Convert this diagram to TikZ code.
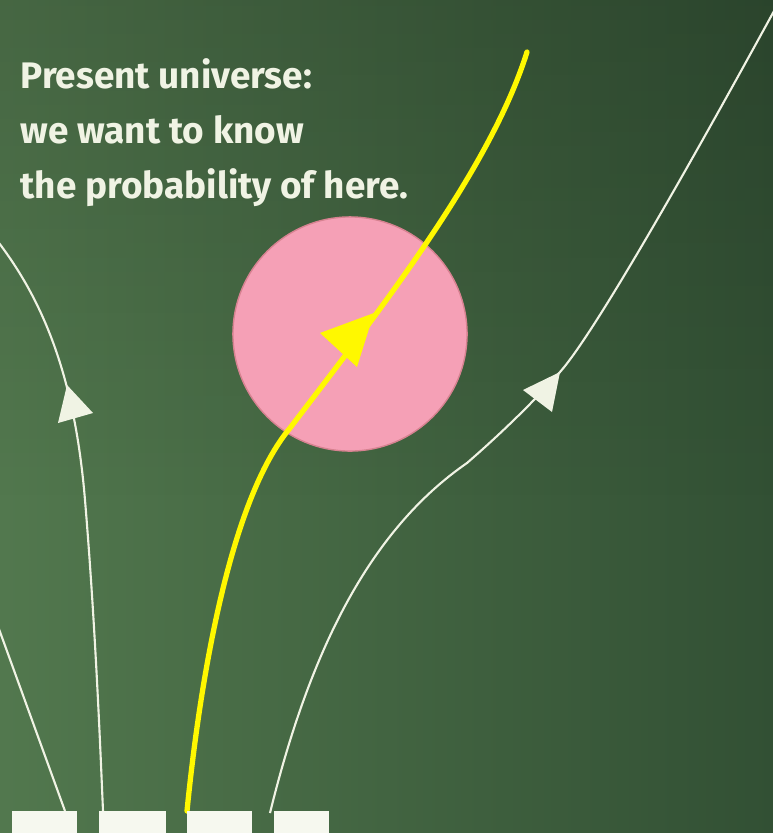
\documentclass[tikz,border=0pt]{standalone}
\usepackage{fontspec}
\setmainfont{Fira Sans}
\usetikzlibrary{fadings}
\definecolor{boardL}{RGB}{82,120,78}
\definecolor{boardR}{RGB}{50,80,52}
\definecolor{chalk}{RGB}{240,243,228}
\definecolor{pinkc}{RGB}{245,160,182}
\definecolor{pinkedge}{RGB}{215,130,145}
\definecolor{yel}{RGB}{255,248,0}
\begin{document}
\begin{tikzpicture}[x=0.01cm,y=-0.01cm,
  txt/.style={text=chalk,font=\bfseries\fontsize{10.5pt}{12pt}\selectfont,anchor=base west,inner sep=0pt},
  chalkline/.style={draw=chalk,line width=0.6pt},
  yline/.style={draw=yel,line width=1.5pt},
  footbox/.style={fill=chalk!60!white,draw=none}]
\useasboundingbox (0,0) rectangle (773,833);
\begin{scope}
\clip (0,0) rectangle (773,833);
\shade[left color=boardL,right color=boardR] (0,0) rectangle (773,833);
\fill[black,opacity=0.14,path fading=south] (0,0) rectangle (773,500);
% pink region
\node[circle,fill=pinkc,draw=pinkedge,line width=0.4pt,minimum size=2.34cm,inner sep=0pt] (here) at (350,334) {};
% left-most line
\coordinate (la) at (-5,618);
\coordinate (lb) at (65,811);
\draw[chalkline] (la) -- (lb);
% second line
\coordinate (ma) at (-8,234);
\coordinate (mm) at (85,500);
\coordinate (mb) at (103,811);
\draw[chalkline] (ma) .. controls (45,300) and (75,380) .. (mm) .. controls (95,620) and (100,740) .. (mb);
\fill[chalk] (67,385) -- (58,423) -- (93,413) -- cycle;
% right line
\coordinate (ra) at (270,813);
\coordinate (rm) at (467,463);
\coordinate (rt) at (560,372);
\coordinate (rb) at (780,0);
\draw[chalkline] (ra) .. controls (310,650) and (370,530) .. (rm) .. controls (505,430) and (535,400) .. (rt) .. controls (600,327) and (720,110) .. (rb);
\fill[chalk] (rt) -- (523,390) -- (552,412) -- cycle;
% yellow path
\coordinate (ya) at (187,811);
\coordinate (ym) at (290,428);
\coordinate (yb) at (527,52);
\draw[yline,line cap=round] (ya) .. controls (200,680) and (230,500) .. (ym) .. controls (380,310) and (490,170) .. (yb);
\fill[yel] (320,333) -- (357,367) -- (374,313) -- cycle;
% boxes
\fill[footbox] (12,811) rectangle (77,833);
\fill[footbox] (99,811) rectangle (166,833);
\fill[footbox] (187,811) rectangle (252,833);
\fill[footbox] (274,811) rectangle (329,833);
\end{scope}
% text
\node[txt] (t1) at (20,88) {Present universe:};
\node[txt] (t2) at (20,143) {we want to know};
\node[txt] (t3) at (20,198) {the probability of here.};
\end{tikzpicture}
\end{document}
